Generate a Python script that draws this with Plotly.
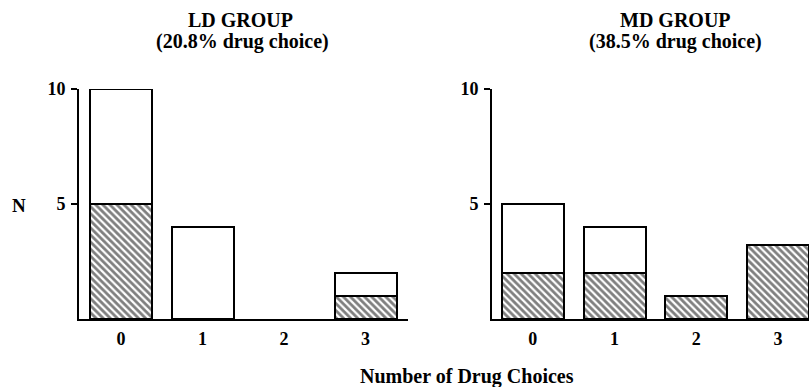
import plotly.graph_objects as go

W, H = 809, 387

categories = [0, 1, 2, 3]
tick_labels = ["0", "1", "2", "3"]
ld_hatched = [5, None, None, 1]
ld_open = [5, 4, None, 1]
md_hatched = [2, 2, 1, 3.2]
md_open = [3, 2, None, None]

FONT = "Liberation Serif"
hatch = dict(shape="\\", fgcolor="black", bgcolor="white", size=5, solidity=0.55)
line = dict(color="black", width=2)
bw = 0.76

fig = go.Figure()
fig.add_bar(x=categories, y=ld_hatched, width=bw, xaxis="x", yaxis="y",
            marker=dict(color="white", pattern=hatch, line=line), showlegend=False)
fig.add_bar(x=categories, y=ld_open, width=bw, xaxis="x", yaxis="y",
            marker=dict(color="white", line=line), showlegend=False)
fig.add_bar(x=categories, y=md_hatched, width=bw, xaxis="x2", yaxis="y2",
            marker=dict(color="white", pattern=hatch, line=line), showlegend=False)
fig.add_bar(x=categories, y=md_open, width=bw, xaxis="x2", yaxis="y2",
            marker=dict(color="white", line=line), showlegend=False)

ydom = [(H - 319) / H, (H - 89) / H]
tickfont = dict(family=FONT, size=18, color="black", weight="bold")
xcommon = dict(showline=True, linecolor="black", linewidth=2, ticks="",
               tickvals=categories, ticktext=tick_labels, tickfont=tickfont,
               showgrid=False, zeroline=False, ticklabelstandoff=2, automargin=False)
ycommon = dict(showline=True, linecolor="black", linewidth=2, ticks="outside",
               ticklen=6, tickwidth=1.5, tickcolor="black", tickvals=[5, 10],
               range=[0, 10], domain=ydom, tickfont=tickfont, showgrid=False,
               zeroline=False, ticklabelstandoff=2, automargin=False)

fig.update_layout(
    width=W, height=H, margin=dict(l=0, r=0, t=0, b=0, pad=0),
    paper_bgcolor="white", plot_bgcolor="white", barmode="stack", bargap=0,
    hovermode=False,
    xaxis=dict(domain=[79 / W, 408 / W], range=[-0.515, 3.52], anchor="y", **xcommon),
    yaxis=dict(anchor="x", **ycommon),
    xaxis2=dict(domain=[492 / W, 1.0], range=[-0.5, 3.38], anchor="y2", **xcommon),
    yaxis2=dict(anchor="x2", **ycommon),
)

def ann(text, x, y, size=20):
    fig.add_annotation(text=text, x=x / W, y=1 - y / H, xref="paper", yref="paper",
                       showarrow=False, xanchor="center", yanchor="middle",
                       font=dict(family=FONT, size=size, color="black", weight="bold"))

ann("LD GROUP", 241, 20)
ann("(20.8% drug choice)", 242, 42)
ann("MD GROUP", 675, 20)
ann("(38.5% drug choice)", 675, 42)
ann("N", 19, 205, 19)
ann("Number of Drug Choices", 467, 376)

fig.write_html("out.html", config={"displayModeBar": False},
               post_script="document.body.style.margin='0';document.body.style.overflow='hidden';")
